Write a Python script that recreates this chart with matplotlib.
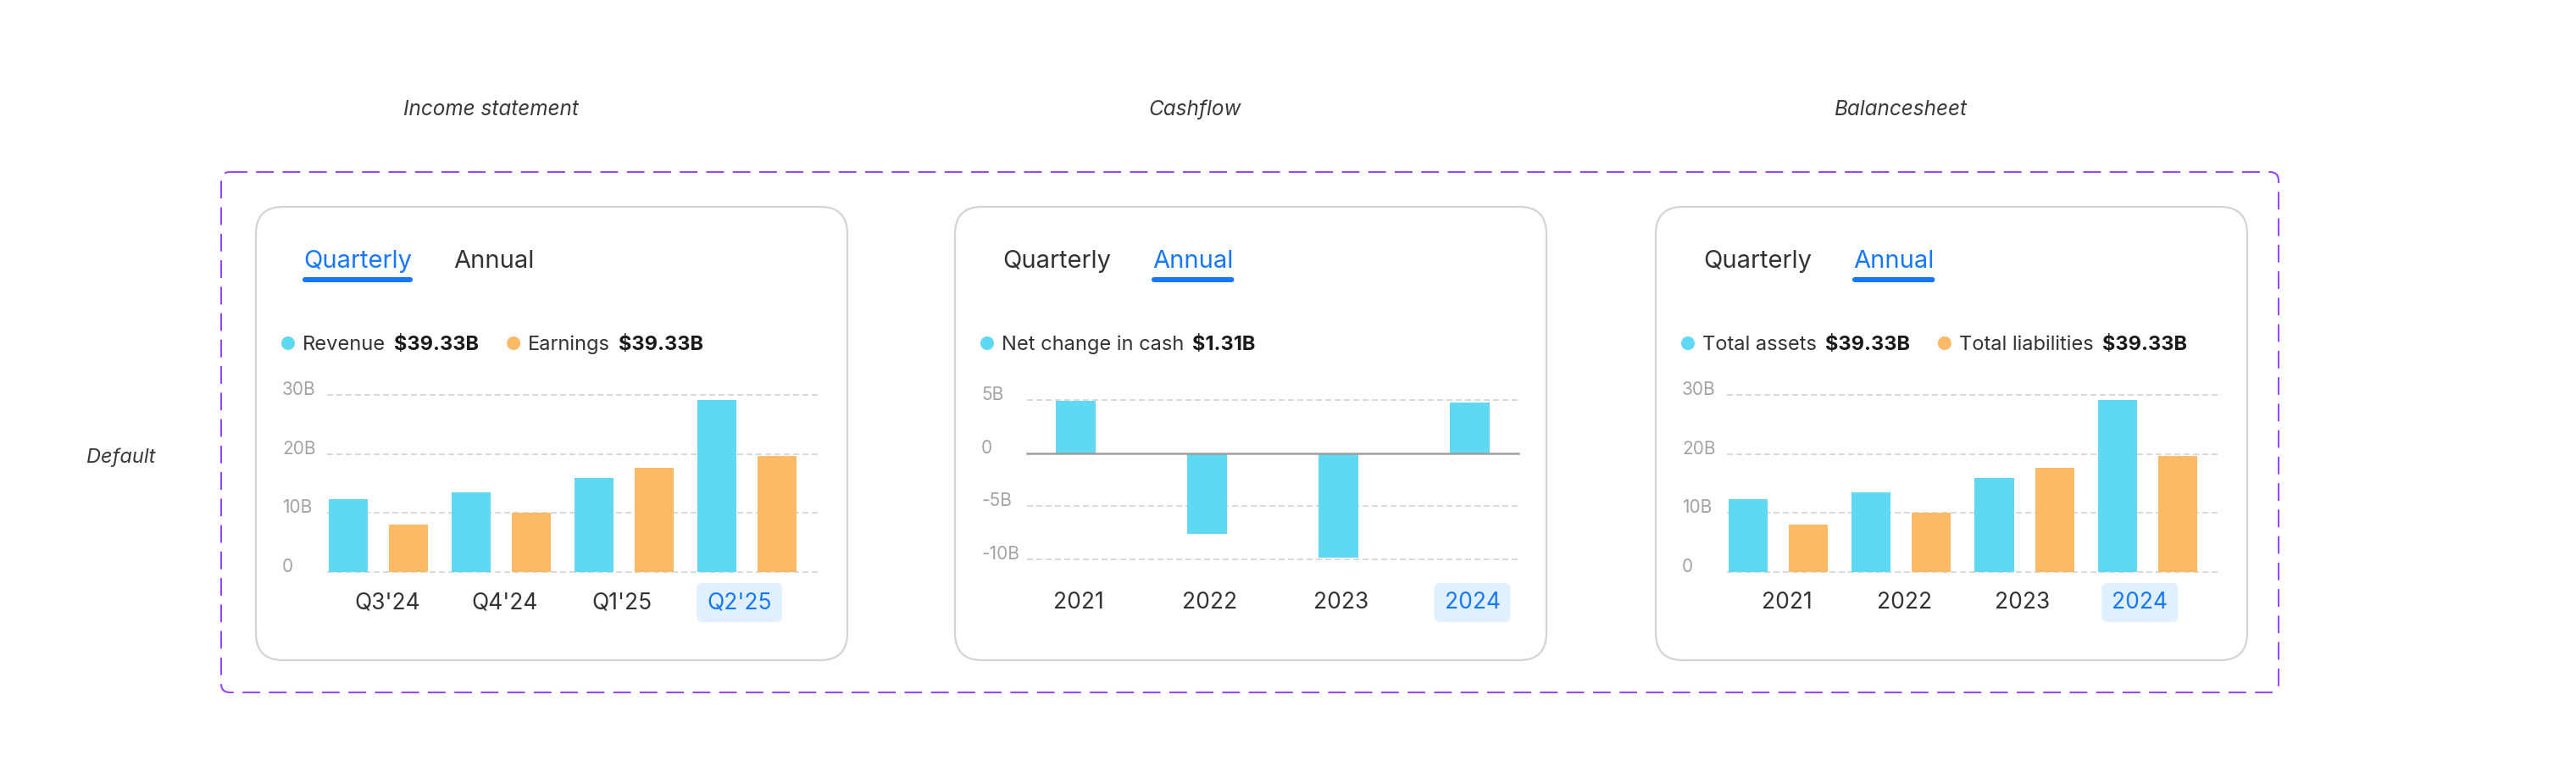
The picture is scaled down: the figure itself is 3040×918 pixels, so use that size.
import matplotlib
matplotlib.use("Agg")
import matplotlib.pyplot as plt
from matplotlib.patches import FancyBboxPatch, Circle
import numpy as np

# ---------------- data ----------------
quarters = ["Q3'24", "Q4'24", "Q1'25", "Q2'25"]
revenue = [12.3, 13.5, 15.9, 29.2]
earnings = [8.0, 10.1, 17.7, 19.6]

years = ["2021", "2022", "2023", "2024"]
net_change = [4.95, -7.6, -9.85, 4.8]

total_assets = [12.3, 13.5, 15.9, 29.2]
total_liabilities = [8.0, 10.1, 17.7, 19.6]

pos_ticks = [0, 10, 20, 30]
pos_tick_labels = ["0", "10B", "20B", "30B"]
cash_ticks = [5, 0, -5, -10]
cash_tick_labels = ["5B", "0", "-5B", "-10B"]

section_titles = ["Income statement", "Cashflow", "Balancesheet"]
state_label = "Default"

# ---------------- style ----------------
plt.rcParams["font.family"] = ["Inter", "DejaVu Sans"]
BLUE = "#5FD8F2"
ORANGE = "#FDBA66"
ACCENT = "#1677FF"
TXT = "#333333"
GRID = "#DADADA"
YLAB = "#A3A3A3"

W, H, DPI = 3040, 918, 100
fig = plt.figure(figsize=(W / DPI, H / DPI), dpi=DPI)
fig.patch.set_facecolor("white")
bg = fig.add_axes([0, 0, 1, 1])
bg.set_xlim(0, W)
bg.set_ylim(H, 0)
bg.axis("off")


def px_axes(x0, y0, x1, y1):
    a = fig.add_axes([x0 / W, 1 - y1 / H, (x1 - x0) / W, (y1 - y0) / H])
    a.set_facecolor("none")
    for s in a.spines.values():
        s.set_visible(False)
    return a


# outer dashed purple frame
bg.add_patch(FancyBboxPatch((261, 203), 2689 - 261, 817 - 203,
                            boxstyle="round,pad=0,rounding_size=10",
                            fill=False, ec="#9747FF", lw=1.5, ls=(0, (10, 5))))

# titles
title_x = [579, 1410, 2243]
for t, x in zip(section_titles, title_x):
    bg.text(x, 136, t, ha="center", va="baseline", fontsize=17.5,
            style="italic", color="#3A3A3A")
bg.text(102, 546, state_label, ha="left", va="baseline", fontsize=17,
        style="italic", color="#3A3A3A")

# cards
card_left = [302, 1127, 1954]
for cl in card_left:
    bg.add_patch(FancyBboxPatch((cl, 244), 698, 535,
                                boxstyle="round,pad=0,rounding_size=32",
                                fc="white", ec="#D4D4D4", lw=1.6))

fig.canvas.draw()
renderer = fig.canvas.get_renderer()
inv = bg.transData.inverted()


def ext(t):
    bb = t.get_window_extent(renderer)
    (x0, y0), (x1, y1) = inv.transform([[bb.x0, bb.y0], [bb.x1, bb.y1]])
    return x0, x1, min(y0, y1), max(y0, y1)


# tabs
active = [0, 1, 1]
for cl, act in zip(card_left, active):
    for i, (lab, dx) in enumerate([("Quarterly", 56), ("Annual", 233)]):
        t = bg.text(cl + dx, 316, lab, ha="left", va="baseline", fontsize=21,
                    color=ACCENT if i == act else TXT)
        if i == act:
            x0, x1, _, _ = ext(t)
            bg.add_patch(FancyBboxPatch((x0 - 1, 327), x1 - x0 + 2, 6,
                                        boxstyle="round,pad=0,rounding_size=3",
                                        fc=ACCENT, ec="none"))

# legends
legends = [
    [(BLUE, "Revenue", "$39.33B"), (ORANGE, "Earnings", "$39.33B")],
    [(BLUE, "Net change in cash", "$1.31B")],
    [(BLUE, "Total assets", "$39.33B"), (ORANGE, "Total liabilities", "$39.33B")],
]
for cl, items in zip(card_left, legends):
    x = cl + 38
    for col, lab, val in items:
        bg.add_patch(Circle((x, 405), 8, fc=col, ec="none"))
        t = bg.text(x + 17, 413, lab, ha="left", va="baseline", fontsize=17, color=TXT)
        _, x1, _, _ = ext(t)
        t2 = bg.text(x1 + 10, 413, val, ha="left", va="baseline", fontsize=17,
                     fontweight="bold", color="#1A1A1A")
        _, x2, _, _ = ext(t2)
        x = x2 + 33 + 8


# ---------------- charts ----------------
def setup_axis(ax, ticks, labels, left_pad_px, xbase_pad_px):
    ax.set_yticks(ticks, labels)
    ax.tick_params(axis="y", length=0, pad=left_pad_px * 0.72, labelsize=15,
                   labelcolor=YLAB)
    for l in ax.get_yticklabels():
        l.set_ha("left")
        l.set_va("baseline")
    ax.tick_params(axis="x", length=0, pad=xbase_pad_px * 0.72, labelsize=19,
                   labelcolor=TXT)
    for l in ax.get_xticklabels():
        l.set_va("baseline")
    ax.get_xticklabels()[-1].set_color(ACCENT)


def grouped(ax, cats, s1, s2):
    x = np.arange(len(cats))
    ax.bar(x - 0.245, s1, width=0.317, color=BLUE, zorder=2)
    ax.bar(x + 0.245, s2, width=0.317, color=ORANGE, zorder=2)
    ax.set_xlim(-0.417, 3.576)
    ax.set_ylim(0, 30)
    for v in pos_ticks:
        ax.axhline(v, color=GRID, lw=1.44, ls=(0, (3.5, 2)), zorder=1, clip_on=False)
    # period labels sit on a slightly tighter rhythm than the bar groups
    ax.set_xticks(x * 0.955 + 0.073, cats)


ax1 = px_axes(386, 466, 965, 675)
grouped(ax1, quarters, revenue, earnings)
setup_axis(ax1, pos_ticks, pos_tick_labels, 53, 43)

ax3 = px_axes(2038, 466, 2618, 675)
grouped(ax3, years, total_assets, total_liabilities)
setup_axis(ax3, pos_ticks, pos_tick_labels, 53, 43)

ax2 = px_axes(1212, 472, 1792, 660)
xc = np.arange(len(years))
ax2.bar(xc, net_change, width=0.297, color=BLUE, zorder=2)
ax2.set_xlim(-0.371, 3.371)
ax2.set_ylim(-10, 5)
for v in cash_ticks:
    if v == 0:
        ax2.axhline(v, color="#9E9E9E", lw=1.8, zorder=3, clip_on=False)
    else:
        ax2.axhline(v, color=GRID, lw=1.44, ls=(0, (3.5, 2)), zorder=1, clip_on=False)
ax2.set_xticks(xc + 0.02, years)
setup_axis(ax2, cash_ticks, cash_tick_labels, 54, 58)

# highlight boxes behind the selected period
fig.canvas.draw()
renderer = fig.canvas.get_renderer()
for ax in (ax1, ax2, ax3):
    lab = ax.get_xticklabels()[-1]
    x0, x1, _, _ = ext(lab)
    base = 718
    bg.add_patch(FancyBboxPatch((x0 - 12, base - 30), x1 - x0 + 24, 46,
                                boxstyle="round,pad=0,rounding_size=7",
                                fc="#E0F0FF", ec="none", zorder=5))

fig.savefig("out.png", dpi=DPI, facecolor="white")
